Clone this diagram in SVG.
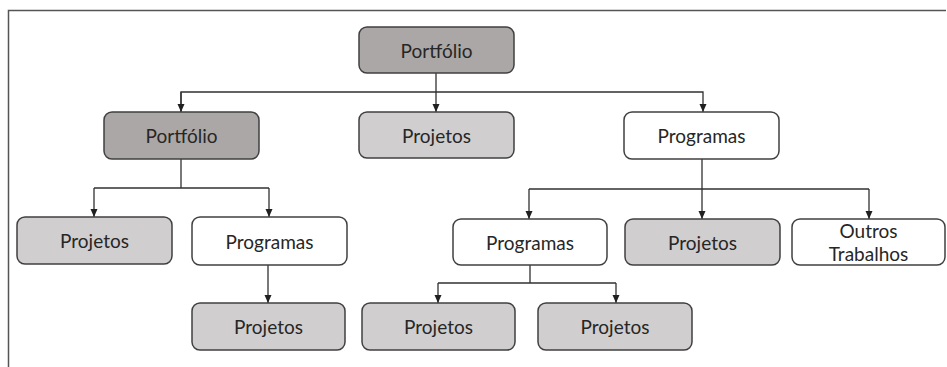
<svg xmlns="http://www.w3.org/2000/svg" width="947" height="367" viewBox="0 0 947 367">
<style>
.box{stroke:#404040;stroke-width:1.5}
.dark{fill:#aba7a6}
.light{fill:#d0cece}
.white{fill:#ffffff}
.lbl{font-family:Lato,"Open Sans",sans-serif;font-size:19px;fill:#262626;text-anchor:middle;dominant-baseline:central}
.con{fill:none;stroke:#303030;stroke-width:1.3}
.frame{stroke:#555;stroke-width:1.5;fill:none}
</style>
<defs>
<marker id="ah" viewBox="0 0 8 8" refX="8" refY="4" markerWidth="8" markerHeight="8" markerUnits="userSpaceOnUse" orient="auto">
<path d="M0,0.5 L8,4 L0,7.5 Z" fill="#202020"/>
</marker>
</defs>
<path class="frame" d="M8.5,367 V10.5 H946"/>
<g id="connectors">
<path class="con" d="M436,73 V92"/>
<path class="con" d="M181,112 V92 H703 V112" marker-end="url(#ah)"/>
<path class="con" d="M181,92 V112" marker-end="url(#ah)"/>
<path class="con" d="M436,92 V112" marker-end="url(#ah)"/>
<path class="con" d="M181,159 V188"/>
<path class="con" d="M94,188 H269"/>
<path class="con" d="M94,188 V217" marker-end="url(#ah)"/>
<path class="con" d="M269,188 V217" marker-end="url(#ah)"/>
<path class="con" d="M268,265 V303" marker-end="url(#ah)"/>
<path class="con" d="M702,159 V189"/>
<path class="con" d="M529,189 H869"/>
<path class="con" d="M529,189 V219" marker-end="url(#ah)"/>
<path class="con" d="M702,189 V219" marker-end="url(#ah)"/>
<path class="con" d="M869,189 V219" marker-end="url(#ah)"/>
<path class="con" d="M530,265 V283"/>
<path class="con" d="M438,283 H616"/>
<path class="con" d="M438,283 V303" marker-end="url(#ah)"/>
<path class="con" d="M616,283 V303" marker-end="url(#ah)"/>
</g>
<g id="n_portfolio_top"><rect class="box dark" x="359" y="27" width="155" height="46" rx="8"/><text class="lbl" x="436.5" y="50">Portfólio</text></g>
<g id="n_portfolio_left"><rect class="box dark" x="104" y="112" width="155" height="47" rx="8"/><text class="lbl" x="181.5" y="135.5">Portfólio</text></g>
<g id="n_projetos_mid"><rect class="box light" x="359" y="112" width="155" height="46" rx="8"/><text class="lbl" x="436.5" y="135">Projetos</text></g>
<g id="n_programas_right"><rect class="box white" x="624" y="112" width="155" height="47" rx="8"/><text class="lbl" x="701.5" y="135.5">Programas</text></g>
<g id="n_projetos_l2a"><rect class="box light" x="17" y="217" width="155" height="47" rx="8"/><text class="lbl" x="94.5" y="240.5">Projetos</text></g>
<g id="n_programas_l2b"><rect class="box white" x="192" y="217" width="155" height="48" rx="8"/><text class="lbl" x="269.5" y="241">Programas</text></g>
<g id="n_projetos_l3a"><rect class="box light" x="192" y="303" width="153" height="47" rx="8"/><text class="lbl" x="268.5" y="326.5">Projetos</text></g>
<g id="n_programas_r2a"><rect class="box white" x="453" y="219" width="154" height="46" rx="8"/><text class="lbl" x="530" y="242">Programas</text></g>
<g id="n_projetos_r2b"><rect class="box light" x="625" y="219" width="155" height="46" rx="8"/><text class="lbl" x="702.5" y="242">Projetos</text></g>
<g id="n_outros"><rect class="box white" x="792" y="219" width="153" height="46" rx="8"/><text class="lbl" x="868.5" y="230">Outros</text><text class="lbl" x="868.5" y="253.5">Trabalhos</text></g>
<g id="n_projetos_r3a"><rect class="box light" x="362" y="303" width="153" height="47" rx="8"/><text class="lbl" x="438.5" y="326.5">Projetos</text></g>
<g id="n_projetos_r3b"><rect class="box light" x="538" y="303" width="154" height="47" rx="8"/><text class="lbl" x="615" y="326.5">Projetos</text></g>
</svg>
